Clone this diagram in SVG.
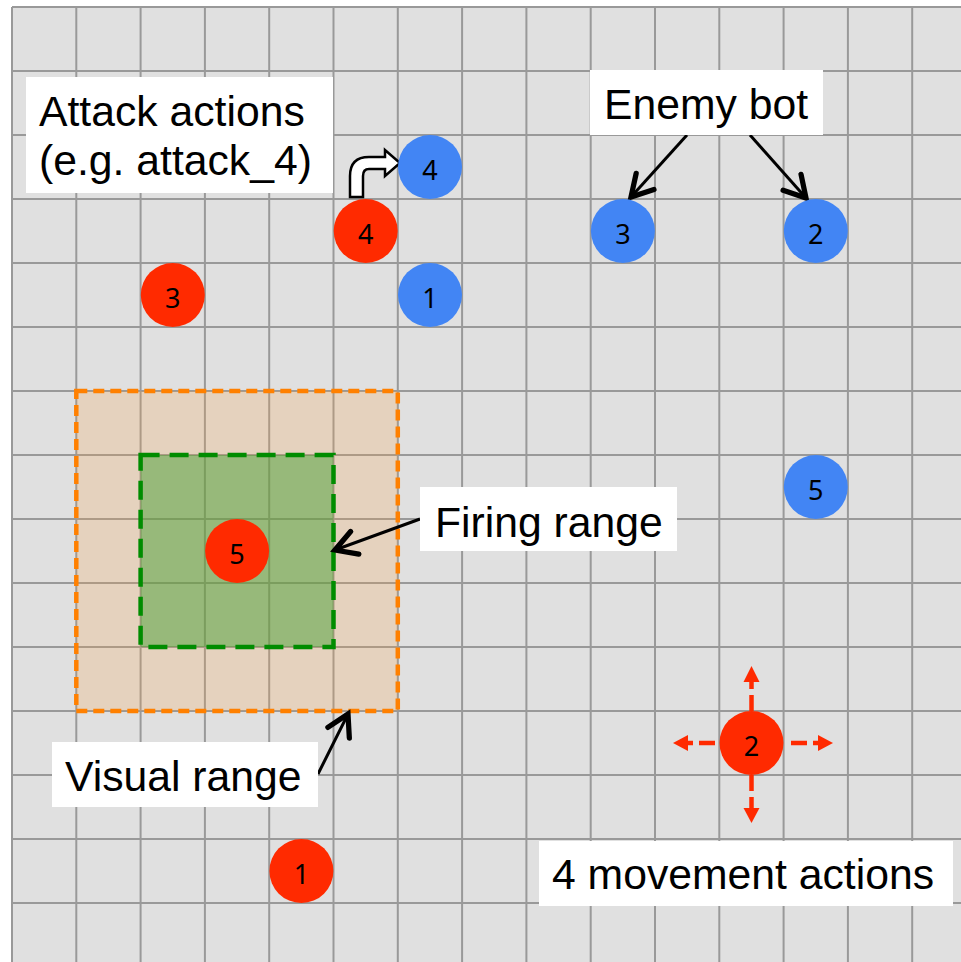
<svg xmlns="http://www.w3.org/2000/svg" width="961" height="962" viewBox="0 0 961 962">
  <defs>
    <style>
      .grid { fill: none; stroke: #999999; stroke-width: 2; }
      .red { fill: #ff2a00; }
      .blue { fill: #4285f4; }
      .num { font-family: "Noto Sans", "Open Sans", sans-serif; font-size: 27px; fill: #000; text-anchor: middle; }
      .box { fill: #ffffff; }
      .label { font-family: "Liberation Sans", Arial, sans-serif; font-size: 42.7px; fill: #000; }
      .pointer { fill: none; stroke: #000; stroke-width: 3; marker-end: url(#open-head); }
      .move { fill: none; stroke: #ff2a00; stroke-width: 4.5; stroke-dasharray: 16 6; }
      .move-head { fill: #ff2a00; }
    </style>
    <marker id="open-head" markerUnits="userSpaceOnUse" markerWidth="30" markerHeight="30" viewBox="-16 -10 20 20" refX="0" refY="0" orient="auto">
      <path d="M-14,-8 L0,0 L-14,8" fill="none" stroke="#000" stroke-width="3.5" stroke-linecap="round" stroke-linejoin="miter"/>
    </marker>
  </defs>

  <!-- board -->
  <rect x="0" y="0" width="961" height="962" fill="#ffffff"/>
  <rect x="12" y="7" width="949" height="955" fill="#e0e0e0"/>
  <path class="grid" d="M12,7V962 M76.3,7V962 M140.6,7V962 M204.9,7V962 M269.2,7V962 M333.5,7V962 M397.8,7V962 M462.1,7V962 M526.4,7V962 M590.7,7V962 M655,7V962 M719.3,7V962 M783.6,7V962 M847.9,7V962 M912.2,7V962
    M12,7H961 M12,71H961 M12,135H961 M12,199H961 M12,263H961 M12,327H961 M12,391H961 M12,455H961 M12,519H961 M12,583H961 M12,647H961 M12,711H961 M12,775H961 M12,839H961 M12,903H961"/>

  <!-- ranges -->
  <g id="visual-range">
    <rect x="76.3" y="391" width="321.5" height="320" fill="rgb(245,160,70)" fill-opacity="0.22" stroke="#ff8000" stroke-width="4.5" stroke-dasharray="11 6"/>
  </g>
  <g id="firing-range">
    <rect x="140.6" y="455" width="192.9" height="192" fill="rgb(73,160,54)" fill-opacity="0.5" stroke="#008c00" stroke-width="4.5" stroke-dasharray="19 10"/>
  </g>

  <!-- connectors -->
  <g id="connectors">
    <line class="pointer" x1="687" y1="135" x2="631" y2="197"/>
    <line class="pointer" x1="750" y1="135" x2="806" y2="198"/>
    <line class="pointer" x1="420" y1="519" x2="335" y2="550"/>
    <line class="pointer" x1="318" y1="774" x2="348" y2="714"/>
    <!-- attack move -->
    <path d="M350,197 L350,176 Q350,157 369,157 L385,157 L385,150 L400,163 L385,176 L385,169 L369,169 Q363,169 363,176 L363,197 Z" fill="#ffffff" stroke="#000" stroke-width="2.5" stroke-linejoin="miter"/>
    <!-- movement options -->
    <line class="move" x1="751.5" y1="711" x2="751.5" y2="682"/>
    <polygon class="move-head" points="743.5,682 759.5,682 751.5,666"/>
    <line class="move" x1="751.5" y1="775" x2="751.5" y2="808"/>
    <polygon class="move-head" points="743.5,808 759.5,808 751.5,823"/>
    <line class="move" x1="791" y1="743" x2="818" y2="743"/>
    <polygon class="move-head" points="818,735 818,751 833,743"/>
    <line class="move" x1="715" y1="743" x2="688" y2="743"/>
    <polygon class="move-head" points="688,735 688,751 673,743"/>
  </g>

  <!-- own bots -->
  <g id="red-1"><circle class="red" cx="301.4" cy="871" r="32"/><text class="num" x="301.4" y="884">1</text></g>
  <g id="red-2"><circle class="red" cx="751.5" cy="743" r="32"/><text class="num" x="751.5" y="756">2</text></g>
  <g id="red-3"><circle class="red" cx="172.8" cy="295" r="32"/><text class="num" x="172.8" y="308">3</text></g>
  <g id="red-4"><circle class="red" cx="365.7" cy="231" r="32"/><text class="num" x="365.7" y="244">4</text></g>
  <g id="red-5"><circle class="red" cx="237.1" cy="551" r="32"/><text class="num" x="237.1" y="564">5</text></g>

  <!-- enemy bots -->
  <g id="blue-1"><circle class="blue" cx="430" cy="295" r="32"/><text class="num" x="430" y="308">1</text></g>
  <g id="blue-2"><circle class="blue" cx="815.8" cy="231" r="32"/><text class="num" x="815.8" y="244">2</text></g>
  <g id="blue-3"><circle class="blue" cx="622.9" cy="231" r="32"/><text class="num" x="622.9" y="244">3</text></g>
  <g id="blue-4"><circle class="blue" cx="430" cy="167" r="32"/><text class="num" x="430" y="180">4</text></g>
  <g id="blue-5"><circle class="blue" cx="815.8" cy="487" r="32"/><text class="num" x="815.8" y="500">5</text></g>

  <!-- captions -->
  <g id="label-attack">
    <rect class="box" x="26" y="77" width="307" height="116"/>
    <text class="label" x="39" y="126">Attack actions</text>
    <text class="label" x="39" y="175">(e.g. attack_4)</text>
  </g>
  <g id="label-enemy">
    <rect class="box" x="590" y="70" width="233" height="65"/>
    <text class="label" x="604" y="119">Enemy bot</text>
  </g>
  <g id="label-firing">
    <rect class="box" x="420" y="487" width="257" height="64"/>
    <text class="label" x="435" y="537">Firing range</text>
  </g>
  <g id="label-visual">
    <rect class="box" x="52" y="742" width="266" height="65"/>
    <text class="label" x="65" y="791">Visual range</text>
  </g>
  <g id="label-movement">
    <rect class="box" x="539" y="841" width="414" height="65"/>
    <text class="label" x="552" y="889">4 movement actions</text>
  </g>
</svg>
